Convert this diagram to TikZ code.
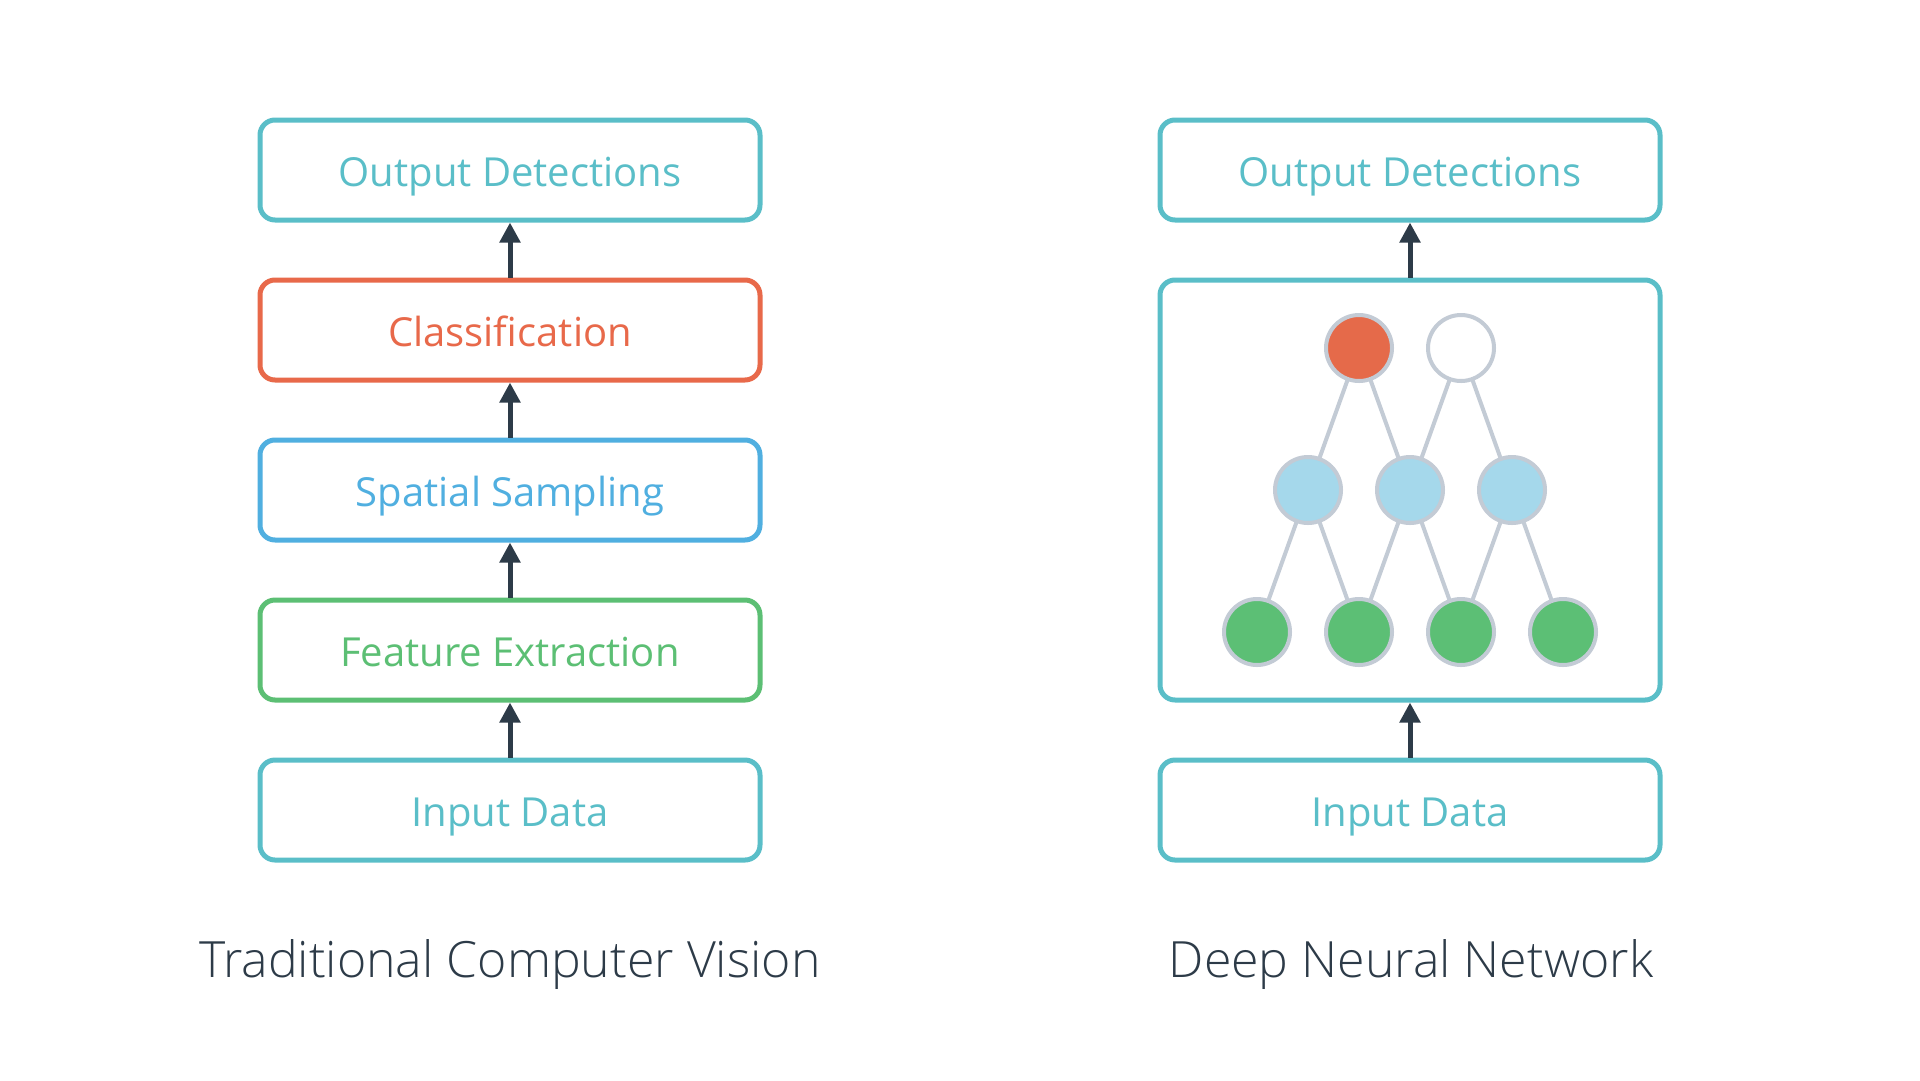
\documentclass[tikz,border=0pt]{standalone}
\usepackage{fontspec}
\setmainfont{Open Sans}
\newfontfamily\lightfont{Open Sans Light}
\usetikzlibrary{arrows.meta}
\definecolor{teal}{HTML}{5ABEC8}
\definecolor{orng}{HTML}{E8694A}
\definecolor{skyb}{HTML}{50AFE0}
\definecolor{grn}{HTML}{5CBF74}
\definecolor{redfill}{HTML}{E56A4A}
\definecolor{lbfill}{HTML}{A5D8EB}
\definecolor{grfill}{HTML}{5CBF75}
\definecolor{ringgray}{HTML}{C3CBD5}
\definecolor{darkc}{HTML}{2D3B48}
\tikzset{
  stagebox/.style={draw=#1, text=#1, fill=white, line width=5pt, rounded corners=15pt,
    minimum width=500pt, minimum height=100pt, inner sep=0pt,
    font=\fontsize{40}{42}\selectfont, text height=32pt, text depth=0pt},
  flowarrow/.style={draw=darkc, line width=5pt, -{Triangle[length=20pt,width=20pt]}},
  neuron/.style={circle, draw=ringgray, fill=#1, line width=4pt, minimum size=66pt, inner sep=0pt},
  synapse/.style={draw=ringgray, line width=4pt},
  caption/.style={font=\lightfont\fontsize{50}{54}\selectfont, text=darkc, anchor=base, inner sep=0pt}
}
\begin{document}
\begin{tikzpicture}[x=1pt,y=-1pt]
\useasboundingbox (0,0) rectangle (1920,1080);
% left column
\node[stagebox=teal] (lout) at (510,170) {Output Detections};
\node[stagebox=orng] (cls) at (510,330) {Classification};
\node[stagebox=skyb] (spa) at (510,490) {Spatial Sampling};
\node[stagebox=grn] (fea) at (510,650) {Feature Extraction};
\node[stagebox=teal] (lin) at (510,810) {Input Data};
\draw[flowarrow] (cls.north) -- (lout.south);
\draw[flowarrow] (spa.north) -- (cls.south);
\draw[flowarrow] (fea.north) -- (spa.south);
\draw[flowarrow] (lin.north) -- (fea.south);
\node[caption] (lcap) at (510,977) {Traditional Computer Vision};
% right column
\node[stagebox=teal] (rout) at (1410,170) {Output Detections};
\node[stagebox=teal, minimum height=420pt] (net) at (1410,490) {};
\node[stagebox=teal] (rin) at (1410,810) {Input Data};
\draw[flowarrow] (net.north) -- (rout.south);
\draw[flowarrow] (rin.north) -- (net.south);
\node[caption] (rcap) at (1411,977) {Deep Neural Network};
% network
\coordinate (t1) at (1359,348);
\coordinate (t2) at (1461,348);
\coordinate (m1) at (1308,490);
\coordinate (m2) at (1410,490);
\coordinate (m3) at (1512,490);
\coordinate (b1) at (1257,632);
\coordinate (b2) at (1359,632);
\coordinate (b3) at (1461,632);
\coordinate (b4) at (1563,632);
\draw[synapse] (t1) -- (m1) (t1) -- (m2) (t2) -- (m2) (t2) -- (m3)
  (m1) -- (b1) (m1) -- (b2) (m2) -- (b2) (m2) -- (b3) (m3) -- (b3) (m3) -- (b4);
\node[neuron=redfill] (nt1) at (t1) {};
\node[neuron=white] (nt2) at (t2) {};
\node[neuron=lbfill] (nm1) at (m1) {};
\node[neuron=lbfill] (nm2) at (m2) {};
\node[neuron=lbfill] (nm3) at (m3) {};
\node[neuron=grfill] (nb1) at (b1) {};
\node[neuron=grfill] (nb2) at (b2) {};
\node[neuron=grfill] (nb3) at (b3) {};
\node[neuron=grfill] (nb4) at (b4) {};
\end{tikzpicture}
\end{document}
